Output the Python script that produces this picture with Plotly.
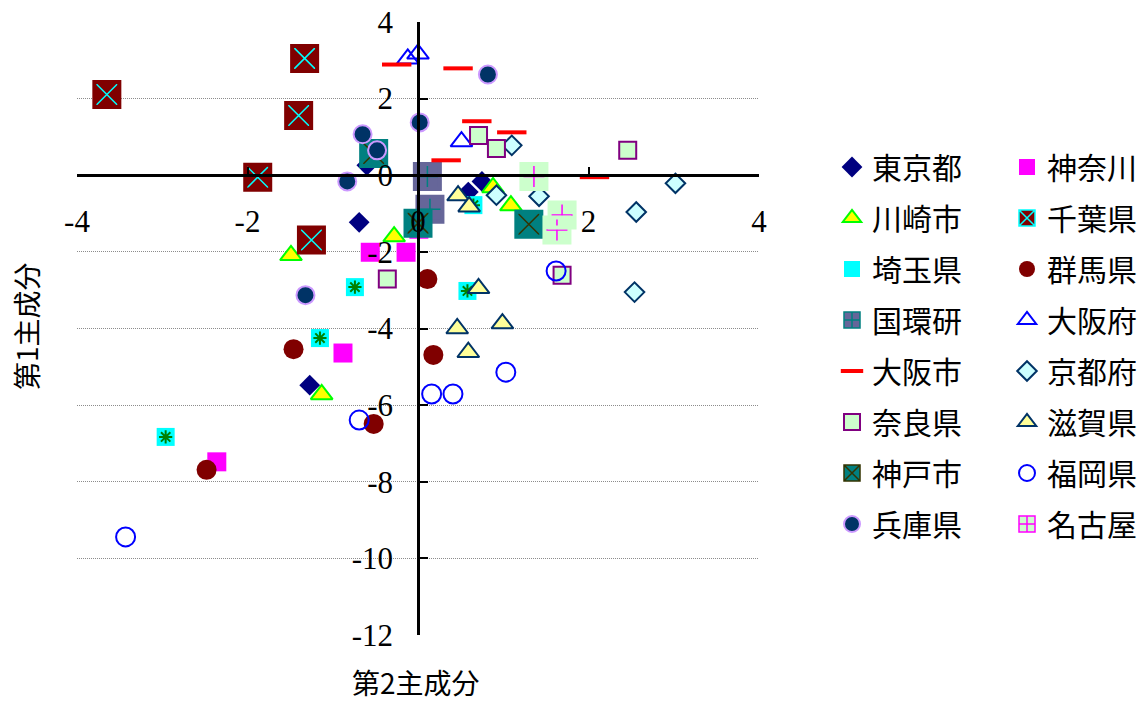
import plotly.graph_objects as go

# Principal component scores per organisation: x = 第2主成分, y = 第1主成分
tokyo_x = [-0.60, -0.69, -1.27, 0.75, 0.59]
tokyo_y = [0.26, -1.23, -5.48, -0.16, -0.44]

kanagawa_x = [-0.56, -0.14, -0.88, -2.36, 0.01]
kanagawa_y = [-2.01, -2.01, -4.64, -7.48, -1.41]

kawasaki_x = [-0.28, -1.49, -1.13, 0.88, 1.09]
kawasaki_y = [-1.60, -2.09, -5.72, -0.32, -0.79]

chiba_x = [-3.65, -1.33, -1.40, -1.88, -1.25]
chiba_y = [2.11, 3.05, 1.56, -0.05, -1.69]

saitama_x = [-0.74, -1.15, -2.96, 0.58, 0.65]
saitama_y = [-2.92, -4.25, -6.83, -3.02, -0.78]

gunma_x = [0.11, 0.18, -1.46, -0.52, -2.48]
gunma_y = [-2.71, -4.69, -4.54, -6.49, -7.69]

nies_x = [0.11, 0.14]
nies_y = [-0.03, -0.89]

osaka_pref_x = [-0.12, 0.00, 0.51]
osaka_pref_y = [3.04, 3.17, 0.88]

osaka_city_x = [-0.25, 0.47, 0.69, 1.10, 0.33, 2.07]
osaka_city_y = [2.89, 2.79, 1.41, 1.12, 0.39, -0.05]

kyoto_x = [1.10, 3.02, 2.56, 0.92, 1.42, 2.54]
kyoto_y = [0.78, -0.21, -0.96, -0.52, -0.55, -3.05]

nara_x = [0.71, 0.92, 2.46, -0.36, 1.69]
nara_y = [1.04, 0.70, 0.65, -2.71, -2.61]

shiga_x = [0.47, 0.60, 0.71, 0.46, 0.99, 0.59]
shiga_y = [-0.53, -0.82, -2.95, -4.00, -3.87, -4.62]

kobe_x = [-0.52, 0.00, 1.30]
kobe_y = [0.57, -1.25, -1.28]

fukuoka_x = [1.62, 1.03, 0.16, 0.41, -0.69, -3.43]
fukuoka_y = [-2.50, -5.14, -5.71, -5.71, -6.39, -9.44]

hyogo_x = [0.82, 0.02, -0.65, -0.48, -0.83, -1.32]
hyogo_y = [2.63, 1.38, 1.07, 0.65, -0.16, -3.13]

nagoya_x = [1.36, 1.69, 1.63]
nagoya_y = [-0.03, -1.04, -1.43]

x_ticks = [-4, -2, 0, 2, 4]
y_ticks = [4, 2, 0, -2, -4, -6, -8, -10, -12]

JP_FONT = "Noto Sans CJK JP"
NUM_FONT = "Liberation Serif"

# (name, x, y, legend column, main marker, optional overlay marker)
series = [
    ("東京都", tokyo_x, tokyo_y, "legend",
     dict(symbol="diamond", size=16, color="#000080", line=dict(width=0)), None),
    ("神奈川", kanagawa_x, kanagawa_y, "legend2",
     dict(symbol="square", size=19, color="#FF00FF", line=dict(width=0)), None),
    ("川崎市", kawasaki_x, kawasaki_y, "legend",
     dict(symbol="triangle-up", size=19, color="#FFFF00", line=dict(width=2, color="#00FF00")), None),
    ("千葉県", chiba_x, chiba_y, "legend2",
     dict(symbol="square-x", size=25, color="#800000", line=dict(width=1.5, color="#00FFFF")),
     dict(symbol="square-open", size=25, color="#800000", line=dict(width=4, color="#800000"))),
    ("埼玉県", saitama_x, saitama_y, "legend",
     dict(symbol="square", size=18, color="#00FFFF", line=dict(width=0)),
     dict(symbol="asterisk-open", size=11, color="#008000", line=dict(width=2, color="#008000"))),
    ("群馬県", gunma_x, gunma_y, "legend2",
     dict(symbol="circle", size=20, color="#800000", line=dict(width=0)), None),
    ("国環研", nies_x, nies_y, "legend",
     dict(symbol="square-cross", size=25, color="#666699", line=dict(width=1.5, color="#008080")),
     dict(symbol="square-open", size=25, color="#666699", line=dict(width=4, color="#666699"))),
    ("大阪府", osaka_pref_x, osaka_pref_y, "legend2",
     dict(symbol="triangle-up-open", size=19, color="#0000FF", line=dict(width=2, color="#0000FF")), None),
    ("大阪市", osaka_city_x, osaka_city_y, "legend",
     dict(symbol="line-ew-open", size=21, color="#FF0000", line=dict(width=4, color="#FF0000")), None),
    ("京都府", kyoto_x, kyoto_y, "legend2",
     dict(symbol="diamond", size=15, color="#CCFFFF", line=dict(width=2, color="#003366")), None),
    ("奈良県", nara_x, nara_y, "legend",
     dict(symbol="square", size=17, color="#CCFFCC", line=dict(width=2, color="#800080")), None),
    ("滋賀県", shiga_x, shiga_y, "legend2",
     dict(symbol="triangle-up", size=19, color="#FFFF99", line=dict(width=2, color="#003366")), None),
    ("神戸市", kobe_x, kobe_y, "legend",
     dict(symbol="square-x", size=25, color="#008080", line=dict(width=1.5, color="#333300")),
     dict(symbol="square-open", size=25, color="#008080", line=dict(width=4, color="#008080"))),
    ("福岡県", fukuoka_x, fukuoka_y, "legend2",
     dict(symbol="circle-open", size=19, color="#0000FF", line=dict(width=2, color="#0000FF")), None),
    ("兵庫県", hyogo_x, hyogo_y, "legend",
     dict(symbol="circle", size=18, color="#003366", line=dict(width=2, color="#CC99FF")), None),
    ("名古屋", nagoya_x, nagoya_y, "legend2",
     dict(symbol="square-cross", size=25, color="#CCFFCC", line=dict(width=1.5, color="#FF00FF")),
     dict(symbol="square-open", size=25, color="#CCFFCC", line=dict(width=4, color="#CCFFCC"))),
]

fig = go.Figure()
for name, xs, ys, leg, marker, overlay in series:
    fig.add_trace(go.Scatter(
        x=xs, y=ys, mode="markers", name=name, marker=marker,
        legend=leg, legendgroup=name, showlegend=True,
    ))
    if overlay is not None:
        fig.add_trace(go.Scatter(
            x=xs, y=ys, mode="markers", name=name, marker=overlay,
            legend=leg, legendgroup=name, showlegend=False, hoverinfo="skip",
        ))

W, H = 1141, 702
legend_style = dict(
    xref="container", yref="container", xanchor="left", yanchor="top",
    y=1 - 141 / H, traceorder="grouped", tracegroupgap=9, maxheight=520,
    font=dict(family=JP_FONT, size=30, color="#000000"),
    bgcolor="rgba(0,0,0,0)", borderwidth=0,
)

fig.update_layout(
    width=W, height=H,
    margin=dict(l=77, r=382, t=22, b=67, autoexpand=False),
    paper_bgcolor="white", plot_bgcolor="white",
    showlegend=True,
    legend=dict(x=832 / W, **legend_style),
    legend2=dict(x=1007 / W, **legend_style),
    xaxis=dict(
        range=[-4, 4], tickvals=x_ticks, ticktext=[str(v) for v in x_ticks],
        anchor="free", position=0.75,
        showline=True, linecolor="#000000", linewidth=2.5,
        ticks="inside", ticklen=8, tickwidth=2, tickcolor="#000000",
        showgrid=False, zeroline=False,
        tickfont=dict(family=NUM_FONT, size=31, color="#000000"),
        ticklabelstandoff=18,
    ),
    yaxis=dict(
        range=[-12, 4], tickvals=y_ticks, ticktext=[str(v) for v in y_ticks],
        anchor="free", position=0.5,
        showline=True, linecolor="#000000", linewidth=2.5,
        ticks="inside", ticklen=8, tickwidth=2, tickcolor="#000000",
        showgrid=True, gridcolor="#8c8c8c", gridwidth=1, griddash="1px,1px",
        zeroline=False,
        tickfont=dict(family=NUM_FONT, size=31, color="#000000"),
        ticklabelstandoff=18,
    ),
    annotations=[
        dict(text="第2主成分", xref="paper", yref="paper", x=0.497, y=-0.077,
             xanchor="center", yanchor="middle", showarrow=False,
             font=dict(family=JP_FONT, size=28, color="#000000")),
        dict(text="第1主成分", xref="paper", yref="paper", x=-0.0748, y=0.504,
             xanchor="center", yanchor="middle", showarrow=False, textangle=-90,
             font=dict(family=JP_FONT, size=28, color="#000000")),
    ],
)

fig.write_html("out.html")
